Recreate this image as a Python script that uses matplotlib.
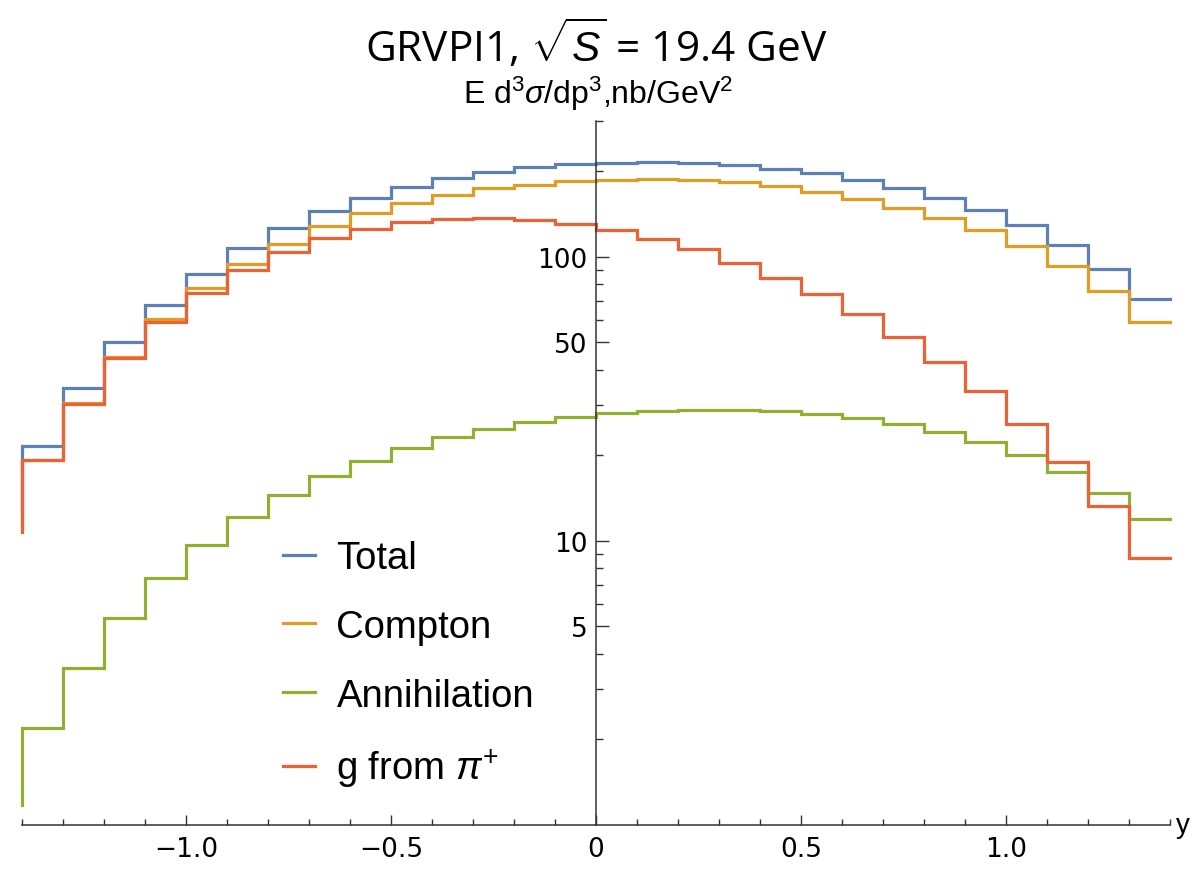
import numpy as np
import matplotlib
matplotlib.use("Agg")
import matplotlib.pyplot as plt
from matplotlib.ticker import FixedLocator, FuncFormatter, NullFormatter

plt.rcParams['font.family'] = ['Liberation Sans', 'DejaVu Sans']
plt.rcParams['mathtext.fontset'] = 'custom'
plt.rcParams['mathtext.rm'] = 'Liberation Sans'
plt.rcParams['mathtext.it'] = 'Liberation Sans:italic'
plt.rcParams['axes.unicode_minus'] = True

# bin edges in rapidity y, width 0.1
y_edges = np.round(np.arange(-1.4, 1.41, 0.1), 1)

# cross sections per bin (nb/GeV^2)
total = [21.6, 34.4, 49.9, 67.8, 86.9, 107, 126, 145, 161, 176, 189, 199, 206, 212,
         214, 215, 214, 210, 204, 197, 186, 175, 161, 146, 129, 110, 90.5, 71]
compton = [19.3, 30.5, 44.2, 60.3, 77.4, 94.5, 111, 128, 142, 154, 165, 174, 179, 184,
           186, 187, 186, 183, 177, 169, 159, 148, 137, 124, 109, 92.5, 75.7, 59]
annihilation = [2.19, 3.58, 5.33, 7.37, 9.66, 12.1, 14.5, 16.9, 19.1, 21.2, 23.1, 24.7, 26.2, 27.3,
                28.1, 28.6, 28.9, 28.9, 28.6, 27.9, 27.0, 25.8, 24.1, 22.2, 20.0, 17.5, 14.7, 11.9]
g_from_pi = [19.2, 30.3, 44.0, 59.0, 74.5, 89.8, 104, 116, 125, 132, 136, 137, 135, 130,
             124, 115, 106, 95, 84.4, 73.7, 63, 52.2, 42.7, 33.7, 25.8, 19.0, 13.3, 8.67]
# value of the bin just left of y = -1.4 (only the vertical edge shows)
prev_bin = {'Total': 12.5, 'Compton': 11.5, 'Annihilation': 1.18, 'g from $\\pi^{+}$': 10.7}

series = [('Total', total, '#5E81B5'),
          ('Compton', compton, '#E19C24'),
          ('Annihilation', annihilation, '#8FB032'),
          ('g from $\\pi^{+}$', g_from_pi, '#EB6235')]

fig = plt.figure(figsize=(11.93, 8.70), dpi=100)
ax = fig.add_axes([22 / 1193, 1 - 826 / 870, (1170 - 22) / 1193, (826 - 122) / 870])

for name, vals, col in series:
    xs = np.r_[y_edges[0], y_edges]
    ys = np.r_[prev_bin[name], vals, vals[-1]]
    ax.plot(xs, ys, drawstyle='steps-post', color=col, lw=2.3, label=name,
            clip_on=False, solid_joinstyle='miter')

ax.set_yscale('log')
ax.set_xlim(-1.4, 1.4)
ax.set_ylim(1, 300)

# Mathematica-style axes crossing at x = 0
for s in ['top', 'right']:
    ax.spines[s].set_visible(False)
ax.spines['left'].set_position(('data', 0))
ax.spines['left'].set_color('#333333')
ax.spines['bottom'].set_color('#333333')
ax.spines['left'].set_linewidth(1.1)
ax.spines['bottom'].set_linewidth(1.1)

ax.xaxis.set_major_locator(FixedLocator([-1.0, -0.5, 0, 0.5, 1.0]))
ax.xaxis.set_minor_locator(FixedLocator(np.round(np.arange(-1.4, 1.41, 0.1), 1)))
ax.xaxis.set_major_formatter(FuncFormatter(lambda v, p: '0' if abs(v) < 1e-9 else f'{v:.1f}'.replace('-', '\u2212')))

ymaj = [5, 10, 50, 100]
ymin_ticks = [m * 10 ** k for k in range(0, 3) for m in range(2, 10) if m * 10 ** k <= 300 and m * 10 ** k not in ymaj]
ax.yaxis.set_major_locator(FixedLocator(ymaj))
ax.yaxis.set_minor_locator(FixedLocator(ymin_ticks))
ax.yaxis.set_major_formatter(FuncFormatter(lambda v, p: f'{int(v)}'))
ax.yaxis.set_minor_formatter(NullFormatter())

ax.tick_params(axis='x', which='major', direction='in', length=7.5, width=1, pad=8,
               labelsize=19, colors='#333333', labelcolor='black')
ax.tick_params(axis='x', which='minor', direction='in', length=4, width=1, colors='#333333')
ax.tick_params(axis='y', which='major', direction='in', length=9, width=1, pad=6,
               labelsize=19, colors='#333333', labelcolor='black')
ax.tick_params(axis='y', which='minor', direction='in', length=5, width=1, colors='#333333')
for lab in ax.get_xticklabels() + ax.get_yticklabels():
    lab.set_family(['DejaVu Sans'])

ax.annotate('y', xy=(1, 0), xycoords='axes fraction', xytext=(4, 0),
            textcoords='offset points', ha='left', va='center', fontsize=20)

leg = ax.legend(loc='upper left', bbox_to_anchor=(283 / 1193, 1 - 541 / 870),
                bbox_transform=fig.transFigure, frameon=False, fontsize=27.5,
                handlelength=0.85, handletextpad=0.55, labelspacing=0.86, borderpad=0,
                borderaxespad=0)
for h in leg.get_lines():
    h.set_linewidth(2.3)

fig.text(596 / 1193, 1 - 45 / 870, 'GRVPI1, $\\sqrt{S}$ = 19.4 GeV', ha='center', va='center',
         fontsize=30.5, family=['Open Sans', 'DejaVu Sans'])
fig.text(598 / 1193, 1 - 94 / 870, 'E d$^3\\sigma$/dp$^3$,nb/GeV$^2$', ha='center', va='center',
         fontsize=23)

fig.savefig('out.png', dpi=100)
